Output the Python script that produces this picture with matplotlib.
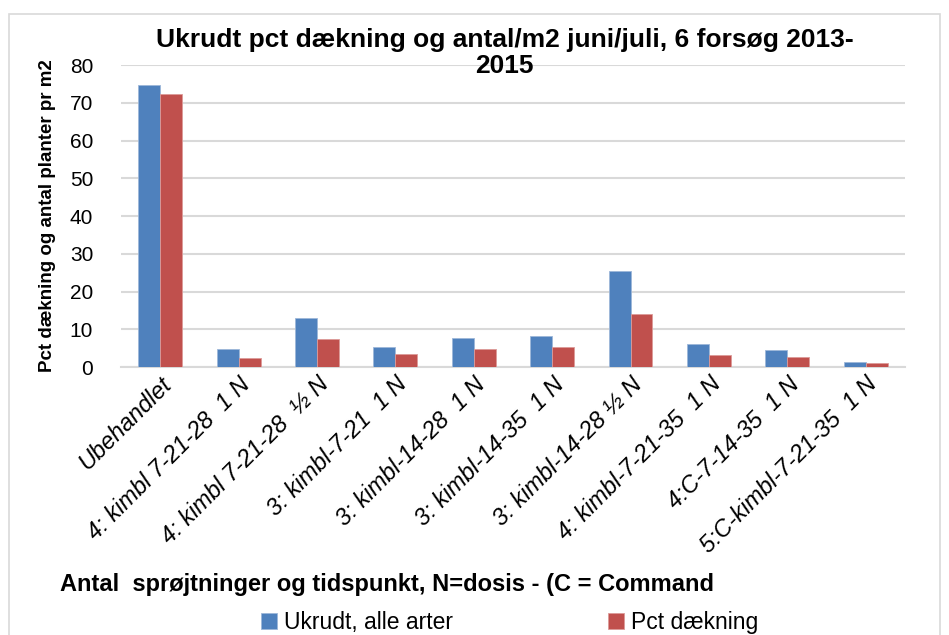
import numpy as np
import matplotlib
matplotlib.use("Agg")
import matplotlib.pyplot as plt
from matplotlib.patches import Rectangle

plt.rcParams['font.family'] = ['Liberation Sans', 'DejaVu Sans']

# Data
categories = [
    "Ubehandlet",
    "4: kimbl 7-21-28  1 N",
    "4: kimbl 7-21-28  \u00bd N",
    "3: kimbl-7-21  1 N",
    "3: kimbl-14-28  1 N",
    "3: kimbl-14-35  1 N",
    "3: kimbl-14-28 \u00bd N",
    "4: kimbl-7-21-35  1 N",
    "4:C-7-14-35  1 N",
    "5:C-kimbl-7-21-35  1 N",
]
ukrudt = [74.7, 4.9, 12.9, 5.2, 7.8, 8.2, 25.5, 6.1, 4.4, 1.4]
daekning = [72.2, 2.3, 7.3, 3.5, 4.9, 5.2, 14.1, 3.1, 2.7, 1.0]
series_names = ["Ukrudt, alle arter", "Pct d\u00e6kning"]
colors = ["#4f81bd", "#c0504d"]

fig = plt.figure(figsize=(9.49, 6.35), dpi=100)
ax = fig.add_axes([0.1275, 0.422, 0.826, 0.4756])

x = np.arange(len(categories))
w = 0.28
b1 = ax.bar(x - w / 2, ukrudt, w, color=colors[0], edgecolor="#9db7d9", linewidth=0.6,
            label=series_names[0], zorder=3)
b2 = ax.bar(x + w / 2, daekning, w, color=colors[1], edgecolor="#dc9a98", linewidth=0.6,
            label=series_names[1], zorder=3)

ax.set_xlim(-0.5, len(categories) - 0.5)
ax.set_ylim(0, 80)
ax.set_yticks(range(0, 81, 10))
ax.yaxis.grid(True, color="#d9d9d9", linewidth=1.5, zorder=0)
ax.set_axisbelow(True)
for s in ["top", "right", "left"]:
    ax.spines[s].set_visible(False)
ax.spines["bottom"].set_color("#d9d9d9")
ax.spines["bottom"].set_linewidth(1.5)
ax.tick_params(axis="both", length=0)
ax.tick_params(axis="y", pad=20, labelsize=15)
ax.tick_params(axis="x", pad=4)
ax.set_xticks(x)
ax.set_xticklabels(categories, rotation=45, ha="right", rotation_mode="anchor",
                   fontstyle="italic", fontsize=17)

ax.set_ylabel("Pct d\u00e6kning og antal planter pr m2", fontsize=13.5, fontweight="bold",
              labelpad=10)

fig.text(0.532, 0.917, "Ukrudt pct d\u00e6kning og antal/m2 juni/juli, 6 fors\u00f8g 2013-\n2015",
         ha="center", va="center", fontsize=19, fontweight="bold", linespacing=1.1)

fig.text(0.063, 0.079, "Antal  spr\u00f8jtninger og tidspunkt, N=dosis - (C = Command",
         ha="left", va="center", fontsize=17, fontweight="bold")

fig.legend(handles=[b1, b2], labels=series_names, loc="center",
           bbox_to_anchor=(0.537, 0.02), ncol=2, frameon=False, fontsize=16.5,
           handlelength=0.7, handleheight=0.7, handletextpad=0.3, columnspacing=6.75)

fig.patches.append(Rectangle((0.009, -0.01), 0.982, 0.988, transform=fig.transFigure,
                             fill=False, edgecolor="#d9d9d9", linewidth=1.2))

fig.savefig("out.png", dpi=100)
